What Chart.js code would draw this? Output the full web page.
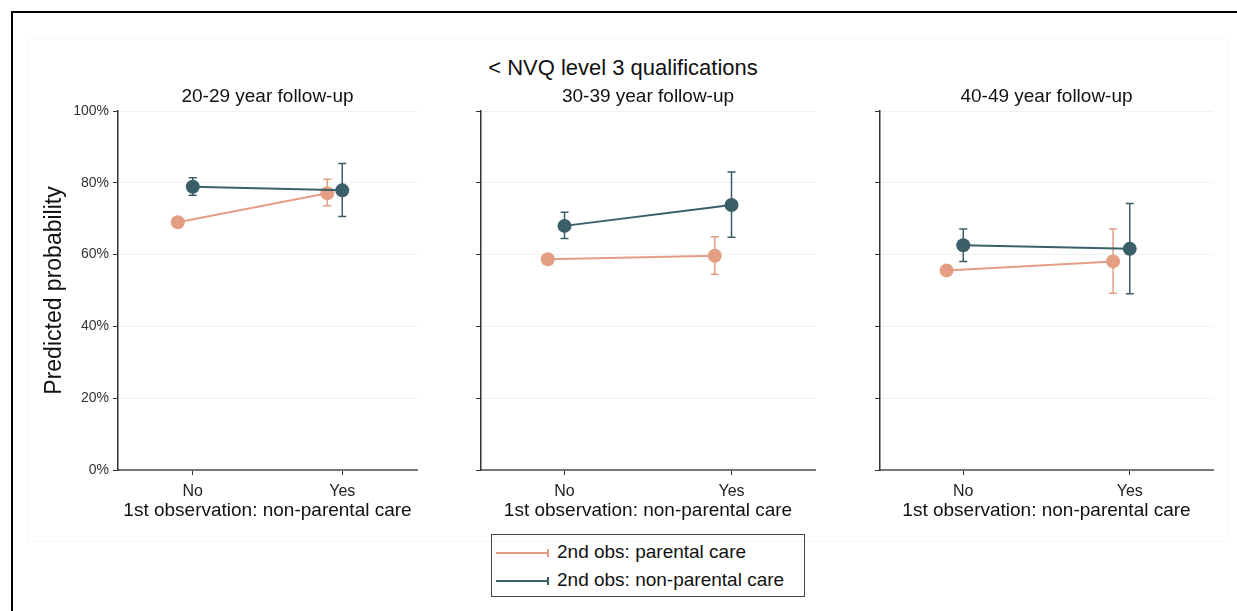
<!DOCTYPE html>
<html>
<head>
<meta charset="utf-8">
<script src="https://cdn.jsdelivr.net/npm/chart.js@4.4.0/dist/chart.umd.min.js"></script>
<style>
  body { margin: 0; background: #fff; font-family: 'Liberation Sans', Arial, sans-serif; }
  #page { position: relative; width: 1237px; height: 611px; overflow: hidden; }
  #frame { position: absolute; left: 11px; top: 11px; width: 1300px; height: 700px; border-left: 2px solid #000; border-top: 2px solid #000; }
  #inner { position: absolute; left: 27px; top: 38px; width: 1199px; height: 502px; border: 1px solid #f8f8f8; }
  #title { position: absolute; left: 0; width: 1246px; top: 55px; line-height: 26px; text-align: center; font-size: 22px; color: #111; }
  .panel { position: absolute; top: 80px; height: 445px; }
  #legend { position: absolute; left: 491px; top: 534px; width: 312px; height: 61px; border: 1.5px solid #444; font-size: 19px; color: #111; }
  .item { position: absolute; left: 4px; height: 22px; line-height: 22px; white-space: nowrap; }
  .swatch { display: inline-block; position: relative; width: 53px; height: 2px; vertical-align: middle; margin-right: 8px; }
  .swatch::after { content: ''; position: absolute; right: 0; top: -3px; width: 2px; height: 8px; background: inherit; }
</style>
</head>
<body>
<div id="page">
  <div id="frame"></div>
  <div id="inner"></div>
  <div id="title">&lt; NVQ level 3 qualifications</div>
  <canvas id="p0" class="panel"></canvas>
  <canvas id="p1" class="panel"></canvas>
  <canvas id="p2" class="panel"></canvas>
  <div id="legend"></div>
</div>
<script>
// chart data
const panelTitles = ['20-29 year follow-up', '30-39 year follow-up', '40-49 year follow-up'];
const categories = ['No', 'Yes'];
const seriesNames = ['2nd obs: parental care', '2nd obs: non-parental care'];
const yTicks = [0, 20, 40, 60, 80, 100];

// predicted probability (%) per panel, [No, Yes]
const parentalEst = [[69.0, 77.1], [58.7, 59.7], [55.6, 58.1]];
const parentalLow = [[68.0, 73.6], [57.9, 54.5], [54.8, 49.2]];
const parentalHigh = [[70.0, 81.0], [59.5, 65.0], [56.4, 67.1]];

const nonParentalEst = [[78.9, 77.9], [68.0, 73.8], [62.6, 61.6]];
const nonParentalLow = [[76.5, 70.6], [64.5, 64.8], [58.1, 49.1]];
const nonParentalHigh = [[81.4, 85.4], [71.8, 83.0], [67.1, 74.2]];

const colors = ['#E39E83', '#3B5F69'];
const FONT = "'Liberation Sans', Arial, sans-serif";

// panel placement on the page
const boxes = [
  { left: 20, width: 412, yWidth: 98 },
  { left: 440, width: 390, yWidth: 41 },
  { left: 840, width: 388, yWidth: 40 },
];

// draw CI whiskers with caps under the markers
const errorBars = {
  id: 'errorBars',
  beforeDatasetsDraw(chart) {
    const { ctx, scales: { x, y } } = chart;
    chart.data.datasets.forEach(ds => {
      ctx.save();
      ctx.strokeStyle = ds.borderColor;
      ctx.lineWidth = 1.5;
      ds.data.forEach(pt => {
        const px = x.getPixelForValue(pt.x);
        const lo = y.getPixelForValue(pt.lo);
        const hi = y.getPixelForValue(pt.hi);
        ctx.beginPath();
        ctx.moveTo(px, lo); ctx.lineTo(px, hi);
        ctx.moveTo(px - 4, lo); ctx.lineTo(px + 4, lo);
        ctx.moveTo(px - 4, hi); ctx.lineTo(px + 4, hi);
        ctx.stroke();
      });
      ctx.restore();
    });
  }
};

function seriesPoints(est, low, high, p, offset) {
  return categories.map((c, i) => ({ x: i + 1 + offset, y: est[p][i], lo: low[p][i], hi: high[p][i] }));
}

panelTitles.forEach((title, p) => {
  const box = boxes[p];
  const canvas = document.getElementById('p' + p);
  canvas.style.left = box.left + 'px';
  canvas.width = box.width;
  canvas.height = 445;
  canvas.style.width = box.width + 'px';

  const first = p === 0;

  new Chart(canvas.getContext('2d'), {
    type: 'line',
    data: {
      datasets: [
        {
          label: seriesNames[0],
          data: seriesPoints(parentalEst, parentalLow, parentalHigh, p, -0.1),
          borderColor: colors[0],
          backgroundColor: colors[0],
          pointRadius: 7,
          pointBorderWidth: 0,
          borderWidth: 2,
          order: 1,
        },
        {
          label: seriesNames[1],
          data: seriesPoints(nonParentalEst, nonParentalLow, nonParentalHigh, p, 0),
          borderColor: colors[1],
          backgroundColor: colors[1],
          pointRadius: 7,
          pointBorderWidth: 0,
          borderWidth: 2,
          order: 0,
        },
      ],
    },
    options: {
      responsive: false,
      animation: false,
      layout: { padding: { left: 0, right: 15, top: 0, bottom: 0 } },
      plugins: {
        legend: { display: false },
        tooltip: { enabled: false },
        title: {
          display: true,
          text: title,
          fullSize: false,
          color: '#111',
          font: { family: FONT, size: 19, weight: 'normal' },
          padding: { top: 5.6, bottom: 2.6 },
        },
      },
      scales: {
        x: {
          type: 'linear',
          min: 0.5,
          max: 2.5,
          afterBuildTicks: axis => { axis.ticks = categories.map((c, i) => ({ value: i + 1 })); },
          afterFit: axis => { axis.height = 55; },
          ticks: {
            color: '#222',
            padding: 7,
            font: { family: FONT, size: 16 },
            callback: v => categories[v - 1],
          },
          grid: { drawOnChartArea: false, tickColor: '#333', tickLength: 5, tickWidth: 1 },
          border: { color: '#777', width: 2 },
          title: {
            display: true,
            text: '1st observation: non-parental care',
            color: '#111',
            font: { family: FONT, size: 19 },
            padding: { top: 0, bottom: 2.6 },
          },
        },
        y: {
          min: 0,
          max: 100,
          afterBuildTicks: axis => { axis.ticks = yTicks.map(v => ({ value: v })); },
          afterFit: axis => { axis.width = box.yWidth; },
          ticks: {
            display: first,
            color: '#333',
            padding: 4,
            font: { family: FONT, size: 14 },
            callback: v => v + '%',
          },
          grid: { color: '#ebf3f3', lineWidth: 1, tickColor: '#333', tickLength: 5 },
          border: { color: '#333', width: 1.5 },
          title: {
            display: first,
            text: 'Predicted probability',
            color: '#111',
            font: { family: FONT, size: 23 },
            padding: { top: 21, bottom: 0 },
          },
        },
      },
    },
    plugins: [errorBars],
  });
});

// legend box
const legend = document.getElementById('legend');
seriesNames.forEach((name, i) => {
  const item = document.createElement('div');
  item.className = 'item';
  item.style.top = (6 + i * 28) + 'px';
  const sw = document.createElement('span');
  sw.className = 'swatch';
  sw.style.background = colors[i];
  item.appendChild(sw);
  item.appendChild(document.createTextNode(name));
  legend.appendChild(item);
});
</script>
</body>
</html>
